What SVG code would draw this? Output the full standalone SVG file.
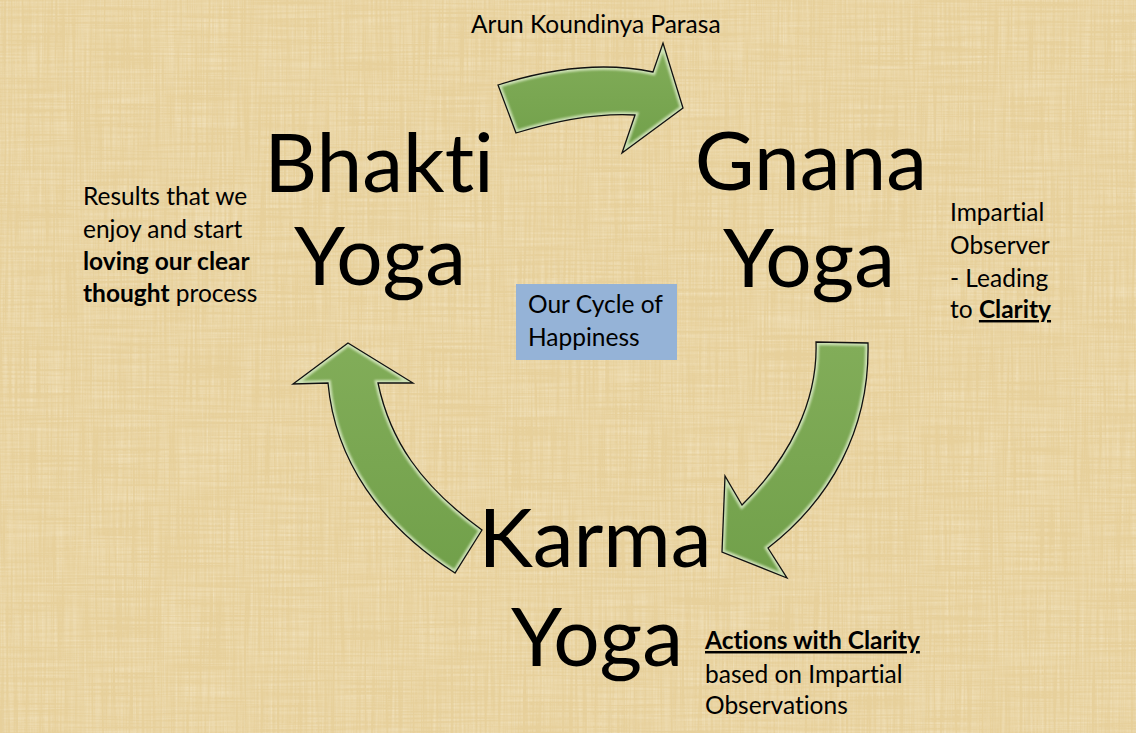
<svg xmlns="http://www.w3.org/2000/svg" width="1136" height="733" viewBox="0 0 1136 733">
<defs>
<style>
text{font-variant-ligatures:none;font-feature-settings:"liga" 0}
.big{font-family:"Lato","Liberation Sans",sans-serif;font-size:82px;fill:#000;text-anchor:middle}
.sm{font-family:"Lato","Liberation Sans",sans-serif;font-size:24.5px;fill:#000}
.b{font-weight:bold}
.u{text-decoration:underline}
.arrow{fill:url(#gr)}
.edge{fill:none;stroke:#111;stroke-width:1.3;stroke-linejoin:miter}
.hl{fill:none;stroke:#eef8dc;stroke-width:6;opacity:0.7;filter:url(#soft)}
</style>
<linearGradient id="gr" x1="0" y1="0" x2="0" y2="1">
<stop offset="0" stop-color="#82ad59"/>
<stop offset="1" stop-color="#71a04a"/>
</linearGradient>
<filter id="soft" x="-10%" y="-10%" width="120%" height="120%"><feGaussianBlur stdDeviation="1.1"/></filter>
<filter id="tex" x="0" y="0" width="100%" height="100%">
<feTurbulence type="fractalNoise" baseFrequency="0.45 0.012" numOctaves="2" seed="4" result="v"/>
<feTurbulence type="fractalNoise" baseFrequency="0.012 0.45" numOctaves="2" seed="9" result="h"/>
<feBlend in="v" in2="h" mode="multiply" result="m"/>
<feColorMatrix in="m" type="matrix" values="0 0 0 0 0.98  0 0 0 0 0.92  0 0 0 0 0.76  1.8 0 0 0 -0.55"/>
</filter>
<filter id="tex2" x="0" y="0" width="100%" height="100%">
<feTurbulence type="fractalNoise" baseFrequency="0.5 0.02" numOctaves="2" seed="21"/>
<feColorMatrix type="matrix" values="0 0 0 0 0.78  0 0 0 0 0.66  0 0 0 0 0.42  -1.5 0 0 0 0.66"/>
</filter>
<path id="a1" d="M498,85 Q584.5,57.5 653,72 L663,43 L683,108 L622,153 L635,115 Q584.5,112 516,133 Z"/>
<path id="a2" d="M816,342 L868,343 C870,430 830,500 768,548 L787,578 L722,552 L725,476 L742,505 C790,458 818,400 816,342 Z"/>
<path id="a3" d="M348,343 L413,383 L378,383 C390,440 420,485 482,530 L455,573 C380,525 335,460 328,383 L293,384 Z"/>
<clipPath id="c1"><use href="#a1"/></clipPath>
<clipPath id="c2"><use href="#a2"/></clipPath>
<clipPath id="c3"><use href="#a3"/></clipPath>
</defs>
<rect width="1136" height="733" fill="#e7d09b"/>
<rect width="1136" height="733" filter="url(#tex)" opacity="0.55"/>
<rect width="1136" height="733" filter="url(#tex2)" opacity="0.5"/>

<g id="connectors">
<g id="arrow-bhakti-gnana">
<use href="#a1" class="arrow"/>
<use href="#a1" class="hl" clip-path="url(#c1)"/>
<use href="#a1" class="edge"/>
</g>
<g id="arrow-gnana-karma">
<use href="#a2" class="arrow"/>
<use href="#a2" class="hl" clip-path="url(#c2)"/>
<use href="#a2" class="edge"/>
</g>
<g id="arrow-karma-bhakti">
<use href="#a3" class="arrow"/>
<use href="#a3" class="hl" clip-path="url(#c3)"/>
<use href="#a3" class="edge"/>
</g>
</g>

<g id="author"><text class="sm" x="471" y="33">Arun Koundinya Parasa</text></g>

<g id="bhakti">
<text class="big" x="379" y="192">Bhakti</text>
<text class="big" x="380" y="285">Yoga</text>
</g>
<g id="bhakti-note">
<text class="sm" x="83" y="205">Results that we</text>
<text class="sm" x="83" y="238">enjoy and start</text>
<text class="sm b" x="83" y="270">loving our clear</text>
<text class="sm" x="83" y="302"><tspan class="b">thought</tspan> process</text>
</g>

<g id="gnana">
<text class="big" x="811" y="190">Gnana</text>
<text class="big" x="809" y="287">Yoga</text>
</g>
<g id="gnana-note">
<text class="sm" x="950" y="221">Impartial</text>
<text class="sm" x="950" y="254">Observer</text>
<text class="sm" x="950" y="287">- Leading</text>
<text class="sm" x="950" y="318">to <tspan class="b u">Clarity</tspan></text>
</g>

<g id="karma">
<text class="big" x="595" y="567">Karma</text>
<text class="big" x="597" y="666">Yoga</text>
</g>
<g id="karma-note">
<text class="sm b u" x="705" y="649">Actions with Clarity</text>
<text class="sm" x="705" y="683">based on Impartial</text>
<text class="sm" x="705" y="714">Observations</text>
</g>

<g id="center">
<rect x="516" y="284" width="161" height="76" fill="#95b3d7"/>
<text class="sm" x="528" y="313">Our Cycle of</text>
<text class="sm" x="528" y="346">Happiness</text>
</g>
</svg>
